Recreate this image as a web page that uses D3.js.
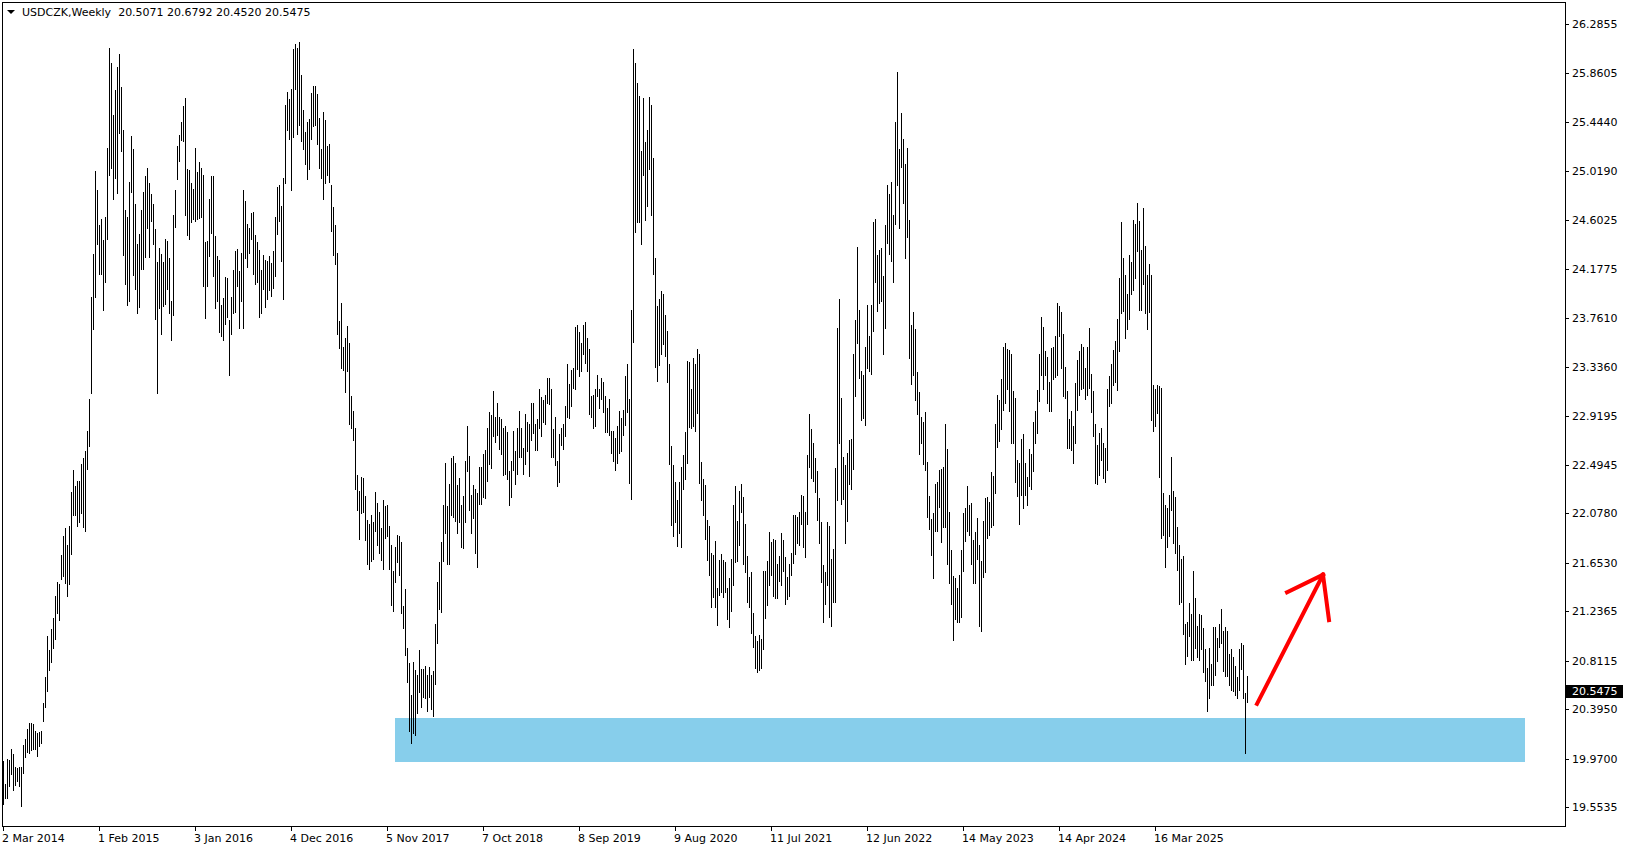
<!DOCTYPE html>
<html>
<head>
<meta charset="utf-8">
<script src="https://cdn.jsdelivr.net/npm/d3@7"></script>
<style>
  html, body { margin: 0; padding: 0; background: #fff; }
  svg { display: block; }
  text { font-family: "DejaVu Sans", Verdana, sans-serif; font-size: 11px; }
</style>
</head>
<body>
<script>
// USDCZK weekly, first bar = week of 2 Mar 2014
var firstWeek = "2 Mar 2014";
var symbol = "USDCZK,Weekly";
var lastOHLC = [20.5071, 20.6792, 20.4520, 20.5475];

var highs = [
  19.95,19.75,19.97,19.96,20.05,20.01,19.90,19.89,19.90,19.90,
  20.09,20.14,20.22,20.28,20.28,20.27,20.21,20.19,20.20,20.21,
  20.45,20.67,21.02,20.90,21.08,21.18,21.37,21.49,21.47,21.72,
  21.88,21.95,21.81,21.97,22.26,22.45,22.31,22.36,22.36,22.50,
  22.55,22.61,22.79,23.06,23.94,24.31,25.02,24.86,24.56,24.61,
  24.43,24.63,25.22,26.08,25.95,25.50,25.72,25.92,26.03,25.74,
  25.37,24.69,24.63,24.93,25.32,25.21,24.74,24.39,24.48,24.69,
  24.84,24.98,25.05,24.92,24.82,24.74,24.52,24.24,24.36,24.31,
  24.24,24.44,24.42,24.27,23.90,24.64,24.86,25.24,25.33,25.44,
  25.58,25.65,25.04,25.03,24.92,24.87,25.22,25.01,25.10,25.05,
  24.99,24.41,24.42,24.78,24.98,24.98,24.46,24.29,24.26,23.87,
  23.93,24.11,24.10,23.74,23.94,24.17,24.33,24.35,24.16,24.32,
  24.86,24.76,24.57,24.53,24.66,24.67,24.47,24.41,24.34,24.17,
  24.30,24.26,24.25,24.29,24.23,24.33,24.63,24.88,24.90,24.72,
  24.96,25.59,25.70,25.64,25.73,26.07,26.11,26.08,26.13,25.85,
  25.55,25.36,25.44,25.47,25.69,25.75,25.75,25.68,25.48,25.21,
  25.53,25.46,25.24,25.25,24.90,24.71,24.56,24.32,23.73,23.89,
  23.51,23.59,23.69,23.54,23.09,22.96,22.81,22.41,22.27,22.39,
  22.38,22.23,22.02,21.99,22.06,22.00,22.26,22.17,22.09,21.95,
  22.19,22.14,22.15,21.97,21.81,21.58,21.79,21.89,21.88,21.83,
  21.28,21.43,20.92,20.79,20.52,20.80,20.73,20.69,20.90,20.74,
  20.74,20.77,20.69,20.76,20.69,20.72,21.13,21.49,21.66,21.83,
  22.15,22.51,22.14,22.33,22.55,22.57,22.51,22.32,22.38,22.15,
  22.23,22.53,22.83,22.57,22.24,22.32,22.29,22.25,22.48,22.48,
  22.59,22.62,22.81,22.95,22.92,23.13,22.91,23.03,22.91,22.89,
  22.81,22.83,22.78,22.44,22.53,22.79,22.61,22.81,22.96,22.81,
  22.64,22.93,22.86,22.85,23.03,23.03,22.85,22.89,23.15,23.08,
  23.05,23.10,23.24,23.24,23.15,22.80,22.91,22.53,22.76,22.81,
  22.85,23.00,23.36,23.19,23.31,23.33,23.68,23.70,23.64,23.54,
  23.70,23.72,23.59,23.49,23.09,23.10,23.15,23.27,23.15,23.24,
  23.21,23.09,22.98,23.06,22.79,22.79,22.73,22.83,22.96,22.90,
  22.97,23.26,23.36,23.06,23.83,26.07,25.95,25.78,25.67,25.19,
  25.65,25.27,25.37,25.66,25.59,25.13,24.27,23.86,23.92,23.99,
  23.96,23.78,23.65,23.36,22.66,22.49,22.35,22.19,22.35,22.48,
  22.58,22.78,23.39,23.38,23.15,23.41,23.36,23.49,23.45,22.52,
  22.37,22.32,22.02,21.97,21.74,21.72,21.84,21.44,21.68,21.73,
  21.68,21.66,21.44,21.52,21.69,22.15,22.31,22.01,22.27,22.33,
  22.22,21.99,21.71,21.53,21.57,21.22,21.02,20.98,21.03,21.00,
  21.58,21.58,21.67,21.92,21.83,21.86,21.85,21.64,21.71,21.91,
  21.85,21.70,21.53,21.64,21.74,22.06,22.06,22.05,22.09,22.24,
  22.23,22.09,22.58,22.93,22.80,22.68,22.55,22.44,22.21,22.00,
  21.63,21.57,22.00,21.97,21.69,21.77,22.47,23.67,23.92,23.07,
  22.56,22.49,22.60,22.71,22.72,23.45,23.74,24.37,23.83,23.30,
  23.27,23.51,23.87,23.60,23.87,24.58,24.61,24.30,24.34,24.36,
  24.12,24.56,24.90,24.82,24.93,24.64,25.44,25.87,25.21,25.52,
  25.30,25.08,25.22,24.60,23.70,23.81,23.66,23.29,23.12,22.91,
  22.86,22.95,22.52,22.23,22.03,22.08,22.33,22.35,22.45,22.46,
  22.48,22.85,22.63,22.09,21.76,21.54,21.52,21.44,21.55,21.76,
  22.08,22.12,22.31,22.15,22.17,21.85,21.92,22.04,21.81,21.67,
  22.01,22.21,22.22,22.18,22.43,22.40,22.85,23.10,23.05,23.23,
  23.51,23.54,23.49,23.48,23.45,23.13,23.07,22.54,22.51,22.72,
  22.76,22.51,22.39,22.63,22.59,22.86,22.96,23.14,23.45,23.77,
  23.68,23.47,23.42,23.21,23.50,23.51,23.60,23.89,23.86,23.81,
  23.62,23.34,23.13,22.89,22.96,22.83,23.20,23.40,23.47,23.53,
  23.51,23.33,23.51,23.67,23.28,23.13,22.85,22.67,22.77,22.81,
  22.68,22.64,23.15,23.26,23.36,23.48,23.56,23.75,24.10,24.58,
  24.27,24.13,23.96,24.30,24.24,24.60,24.57,24.75,24.59,24.34,
  24.70,24.38,24.13,24.22,24.13,23.18,23.15,23.18,23.17,23.16,
  22.25,22.15,22.12,22.24,22.56,22.27,22.22,21.96,21.81,21.69,
  21.71,21.13,21.14,21.31,21.21,21.58,21.35,21.11,21.21,21.20,
  21.09,20.91,20.75,20.92,20.78,21.10,21.10,21.01,21.13,21.26,
  21.07,21.10,21.07,20.87,20.91,20.84,20.77,20.67,20.91,20.96,
  20.95,20.53,20.6792
];

var lows = [
  19.58,19.63,19.63,19.73,19.84,19.70,19.74,19.78,19.73,19.56,
  19.85,19.98,20.03,20.02,20.04,20.05,20.05,19.99,20.08,20.10,
  20.29,20.41,20.55,20.73,20.80,20.92,21.00,21.22,21.16,21.51,
  21.54,21.48,21.37,21.47,21.73,22.06,22.06,21.97,22.00,22.08,
  21.96,21.93,22.46,22.66,23.11,23.66,23.94,24.39,24.14,24.14,
  23.83,24.07,24.44,24.99,25.05,24.78,24.96,24.83,25.35,25.19,
  24.30,24.05,23.87,23.90,24.84,24.13,24.01,23.80,23.85,24.18,
  24.18,24.28,24.53,24.28,24.59,24.39,23.75,23.11,23.84,23.62,
  23.86,23.88,24.01,23.80,23.57,23.78,24.54,24.95,25.11,25.29,
  25.28,24.64,24.47,24.44,24.58,24.61,24.59,24.61,24.62,24.63,
  24.03,23.76,24.03,24.29,24.49,24.12,23.84,23.90,23.64,23.60,
  23.57,23.71,23.77,23.27,23.62,23.80,23.81,24.03,23.67,23.90,
  23.67,24.27,24.20,24.32,24.44,24.14,24.05,24.07,23.77,23.80,
  24.01,23.85,23.92,24.00,23.95,24.02,24.12,24.48,24.59,24.25,
  23.92,24.92,25.37,25.30,24.86,25.31,25.73,25.34,25.42,25.28,
  25.21,25.08,24.95,25.04,25.30,25.41,25.42,25.25,25.05,24.96,
  24.78,24.92,24.99,24.93,24.51,24.30,24.22,23.62,23.50,23.33,
  23.31,23.12,23.30,22.85,22.81,22.71,22.29,22.11,21.86,22.08,
  22.09,21.85,21.64,21.60,21.67,21.69,21.93,21.81,21.74,21.68,
  21.60,21.87,21.88,21.60,21.29,21.24,21.49,21.66,21.55,21.22,
  21.09,20.86,20.63,20.21,20.10,20.19,20.17,20.36,20.54,20.41,
  20.50,20.49,20.38,20.50,20.40,20.34,20.61,20.96,21.26,21.23,
  21.67,21.91,21.64,21.64,22.06,22.05,22.01,21.91,22.00,21.79,
  21.78,22.00,22.44,22.11,21.91,22.04,21.74,21.62,22.16,22.16,
  22.22,22.21,22.36,22.50,22.47,22.74,22.69,22.75,22.63,22.59,
  22.41,22.42,22.37,22.15,22.22,22.45,22.33,22.42,22.56,22.56,
  22.42,22.50,22.61,22.40,22.71,22.77,22.62,22.62,22.81,22.74,
  22.86,22.85,23.03,23.02,22.56,22.56,22.49,22.31,22.35,22.67,
  22.63,22.74,22.91,22.90,23.00,23.16,23.15,23.32,23.26,23.30,
  23.45,23.37,23.30,22.93,22.91,22.81,22.83,23.09,22.98,23.06,
  22.95,22.78,22.78,22.75,22.60,22.53,22.45,22.51,22.60,22.61,
  22.75,22.84,22.95,22.34,22.20,23.55,24.50,24.58,24.58,24.39,
  24.99,24.60,24.72,25.04,24.64,24.14,23.34,23.22,23.35,23.45,
  23.53,23.43,23.21,22.50,21.98,21.88,22.00,21.80,21.91,21.79,
  22.29,22.37,22.51,22.82,22.81,22.83,22.79,22.94,22.34,22.19,
  22.06,21.86,21.68,21.55,21.27,21.36,21.27,21.12,21.38,21.40,
  21.36,21.40,21.17,21.10,21.24,21.46,21.66,21.67,21.81,22.09,
  21.64,21.57,21.32,21.27,21.05,20.93,20.75,20.71,20.73,20.75,
  20.91,21.18,21.29,21.46,21.55,21.37,21.35,21.35,21.50,21.46,
  21.58,21.30,21.34,21.37,21.55,21.65,21.73,21.82,21.81,21.99,
  21.79,21.70,21.99,22.48,22.38,22.36,22.26,22.02,21.82,21.49,
  21.14,21.30,21.46,21.19,21.11,21.32,21.32,22.19,22.68,22.16,
  22.20,21.82,22.01,22.33,22.29,22.46,23.09,23.54,23.24,22.88,
  22.90,22.84,23.33,23.30,23.28,23.65,24.07,23.82,23.89,23.90,
  23.45,23.67,24.40,24.31,24.25,24.07,24.57,24.90,24.53,25.06,
  24.75,24.27,24.45,23.41,23.19,23.27,23.05,22.93,22.59,22.68,
  22.50,22.45,22.05,21.94,21.72,21.52,21.93,21.93,22.13,21.83,
  21.96,21.96,21.64,21.48,21.30,20.99,21.17,21.14,21.14,21.19,
  21.58,21.84,21.93,21.89,21.64,21.48,21.48,21.69,21.11,21.07,
  21.53,21.57,21.87,21.89,21.96,21.98,22.25,22.65,22.70,22.80,
  22.97,23.03,23.15,22.96,22.68,22.68,22.35,22.23,21.99,22.24,
  22.12,22.24,22.15,22.31,22.29,22.44,22.68,22.77,23.04,23.27,
  23.15,23.27,23.03,22.96,22.96,23.23,23.25,23.27,23.60,23.33,
  23.09,23.07,22.64,22.64,22.62,22.51,22.68,22.97,23.10,23.15,
  23.16,23.06,23.10,23.16,22.95,22.74,22.34,22.33,22.41,22.54,
  22.38,22.35,22.45,23.00,23.03,23.18,23.21,23.14,23.47,23.80,
  23.82,23.59,23.66,23.75,23.96,24.00,24.10,24.33,23.83,23.83,
  24.05,23.80,23.66,23.81,22.88,22.79,22.83,22.94,22.39,21.87,
  21.89,21.62,21.79,21.88,22.11,21.82,21.74,21.59,21.30,21.32,
  21.04,20.78,20.85,21.02,20.82,20.82,20.92,20.84,20.82,20.91,
  20.71,20.64,20.38,20.49,20.60,20.60,20.69,20.81,20.93,20.96,
  20.72,20.68,20.68,20.60,20.56,20.55,20.52,20.49,20.56,20.74,
  20.49,20.02,20.4520
];

var dateLabels = ["2 Mar 2014","1 Feb 2015","3 Jan 2016","4 Dec 2016","5 Nov 2017",
  "7 Oct 2018","8 Sep 2019","9 Aug 2020","11 Jul 2021","12 Jun 2022",
  "14 May 2023","14 Apr 2024","16 Mar 2025"];

var priceTicks = [26.2855,25.8605,25.4440,25.0190,24.6025,24.1775,23.7610,23.3360,
  22.9195,22.4945,22.0780,21.6530,21.2365,20.8115,20.3950,19.9700,19.5535];

// support zone (week index from first bar, prices)
var zoneWeeks = [196, 761];
var zonePrices = [20.3185, 19.9405];

// hand-drawn arrow: [week index, price]
var arrowShaft = [[627, 20.44], [660, 21.55]];
var arrowHeadLeft = [[642, 21.40], [660, 21.55]];
var arrowHeadRight = [[660, 21.55], [663, 21.16]];

if (highs.length !== lows.length) throw new Error("length " + highs.length + " vs " + lows.length);

var width = 1629, height = 850;
var plot = {left: 2, top: 2, right: 1565, bottom: 826};

var parse = d3.timeParse("%d %b %Y");
var start = parse(firstWeek);

var x = d3.scaleLinear()
    .domain([0, highs.length - 1])
    .range([3, 3 + 2 * (highs.length - 1)]);

var y = d3.scaleLinear()
    .domain([19.5535, 26.2855])
    .range([807, 24]);

var svg = d3.select("body").append("svg")
    .attr("width", width)
    .attr("height", height);

svg.append("rect")
    .attr("width", width).attr("height", height)
    .attr("fill", "#fff");

// zone
svg.append("rect")
    .attr("x", Math.round(x(zoneWeeks[0])))
    .attr("y", Math.round(y(zonePrices[0])))
    .attr("width", Math.round(x(zoneWeeks[1])) - Math.round(x(zoneWeeks[0])))
    .attr("height", Math.round(y(zonePrices[1])) - Math.round(y(zonePrices[0])))
    .attr("fill", "#87ceeb");

// bars
var bars = d3.range(highs.length).map(function(i) { return {i: i, h: highs[i], l: lows[i]}; });

svg.append("g")
    .attr("class", "bars")
    .attr("shape-rendering", "crispEdges")
  .selectAll("line")
    .data(bars)
  .enter().append("line")
    .attr("x1", function(d) { return Math.round(x(d.i)) + 0.5; })
    .attr("x2", function(d) { return Math.round(x(d.i)) + 0.5; })
    .attr("y1", function(d) { return Math.round(y(d.h)); })
    .attr("y2", function(d) { return Math.round(y(d.l)) + 1; })
    .attr("stroke", "#000")
    .attr("stroke-width", 1);

// arrow
var line = d3.line()
    .x(function(d) { return x(d[0]); })
    .y(function(d) { return y(d[1]); });

[arrowShaft, arrowHeadLeft, arrowHeadRight].forEach(function(seg) {
  svg.append("path")
      .attr("d", line(seg))
      .attr("fill", "none")
      .attr("stroke", "#ff0000")
      .attr("stroke-width", 4)
      .attr("stroke-linecap", "square");
});

// frame
svg.append("rect")
    .attr("x", plot.left + 0.5)
    .attr("y", plot.top + 0.5)
    .attr("width", plot.right - plot.left)
    .attr("height", plot.bottom - plot.top)
    .attr("fill", "none")
    .attr("stroke", "#000")
    .attr("shape-rendering", "crispEdges");

// price axis
var yAxis = svg.append("g").attr("shape-rendering", "crispEdges");
priceTicks.forEach(function(v) {
  var py = Math.round(y(v)) + 0.5;
  yAxis.append("line")
      .attr("x1", plot.right + 1).attr("x2", plot.right + 4)
      .attr("y1", py).attr("y2", py)
      .attr("stroke", "#000");
  yAxis.append("text")
      .attr("x", 1572)
      .attr("y", py)
      .attr("dy", "0.36em")
      .attr("fill", "#000")
      .text(d3.format(".4f")(v));
});

// last price marker
var lp = Math.round(y(lastOHLC[3]));
svg.append("rect")
    .attr("x", plot.right + 1).attr("y", lp - 6)
    .attr("width", 57).attr("height", 13)
    .attr("fill", "#000");
svg.append("text")
    .attr("x", 1572).attr("y", lp + 0.5)
    .attr("dy", "0.36em")
    .attr("fill", "#fff")
    .text(d3.format(".4f")(lastOHLC[3]));

// time axis
var xAxis = svg.append("g");
dateLabels.forEach(function(s) {
  var idx = d3.timeWeek.count(start, parse(s));
  var px = Math.round(x(idx)) + 0.5;
  xAxis.append("line")
      .attr("x1", px).attr("x2", px)
      .attr("y1", plot.bottom + 1).attr("y2", plot.bottom + 5)
      .attr("stroke", "#000")
      .attr("shape-rendering", "crispEdges");
  xAxis.append("text")
      .attr("x", px - 1.5)
      .attr("y", 842)
      .attr("fill", "#000")
      .text(s);
});

// title
svg.append("path")
    .attr("d", "M7,10 L15,10 L11,14 Z")
    .attr("fill", "#000");
svg.append("text")
    .attr("x", 22).attr("y", 16)
    .attr("fill", "#000")
    .style("white-space", "pre")
    .text(symbol + "  " + lastOHLC.map(d3.format(".4f")).join(" "));
</script>
</body>
</html>
